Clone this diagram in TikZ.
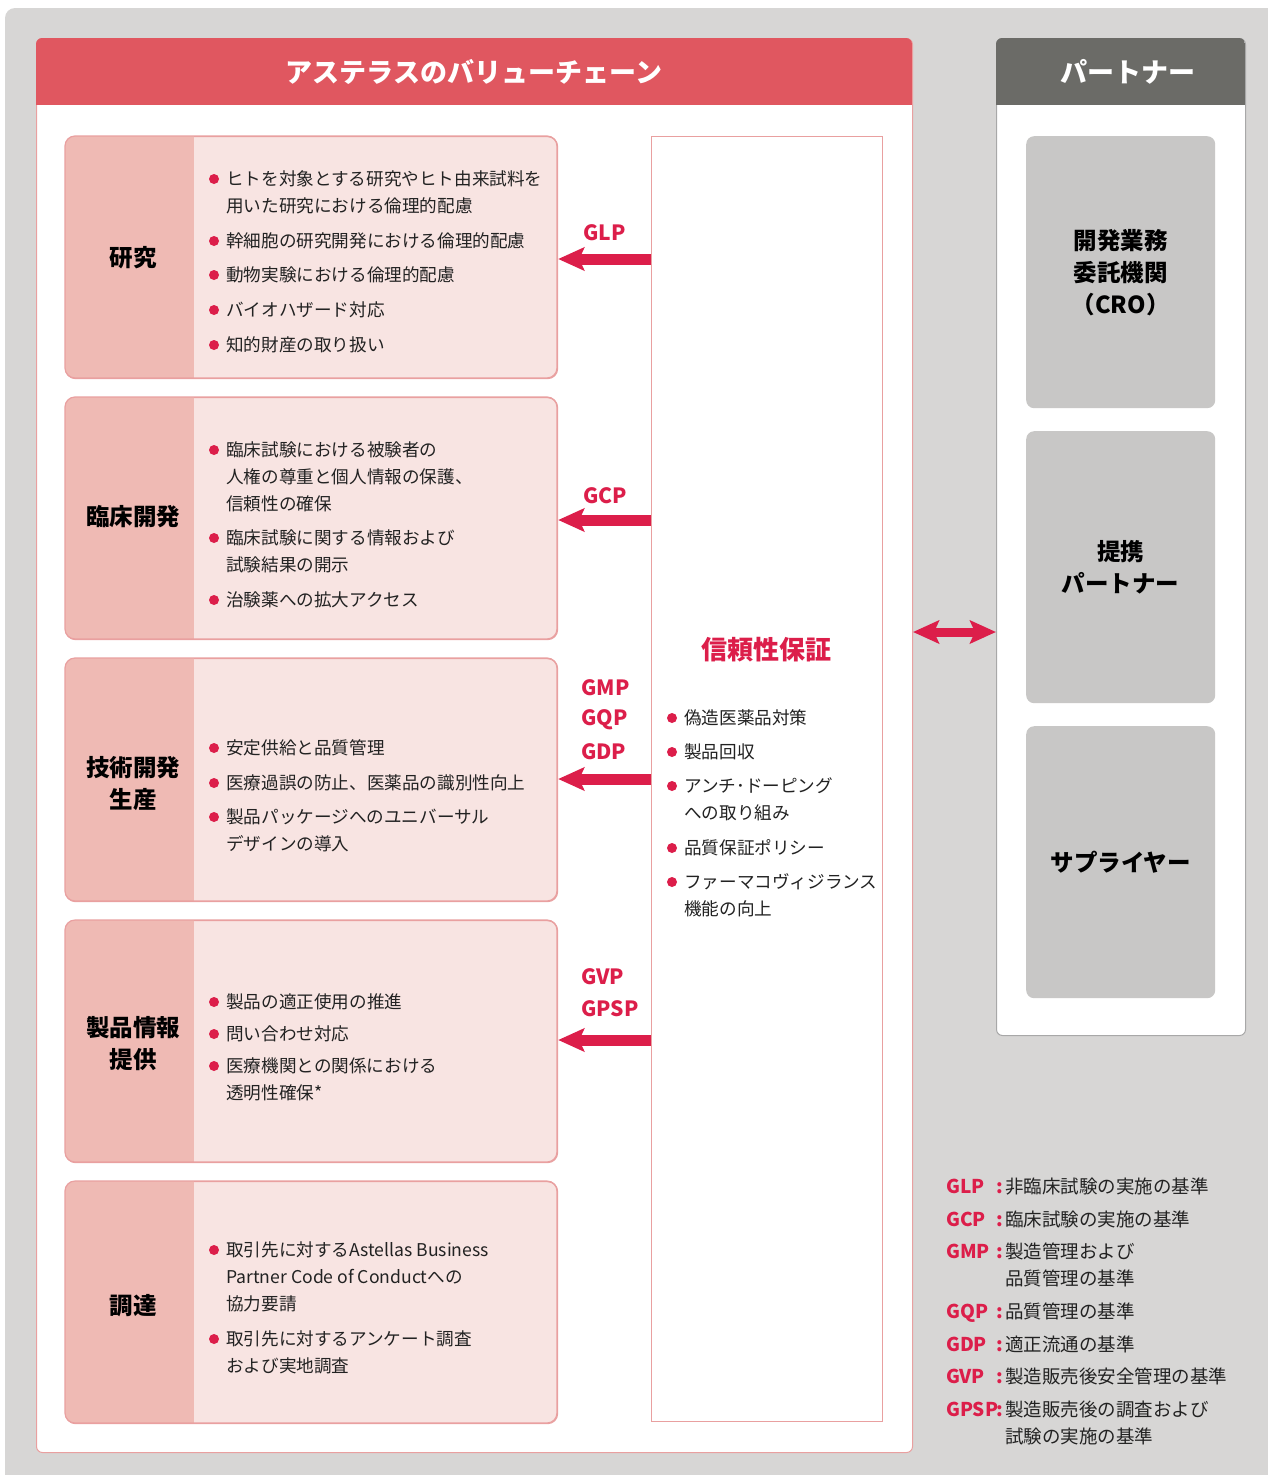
\documentclass[tikz,border=0pt]{standalone}
\usepackage{fontspec}
\setmainfont{Noto Sans CJK JP}
\usetikzlibrary{arrows.meta}
\definecolor{hdrred}{HTML}{E05760}
\definecolor{acc}{HTML}{DC1E4A}
\definecolor{labbg}{HTML}{EFBAB4}
\definecolor{txtbg}{HTML}{F8E4E2}
\definecolor{pinkline}{HTML}{E9A0A0}
\definecolor{bggray}{HTML}{D7D6D5}
\definecolor{phdr}{HTML}{6B6B67}
\definecolor{pbox}{HTML}{C8C7C6}
\definecolor{pline}{HTML}{A8A8A8}
\definecolor{txt}{HTML}{222222}
\tikzset{
  body/.style={font=\fontsize{17.6}{27}\selectfont, text=txt, inner sep=0pt, anchor=base west},
  lab/.style={font=\bfseries\fontsize{23.5}{32}\selectfont, text=black, align=center, inner sep=0pt},
  code/.style={font=\bfseries\fontsize{21}{32}\selectfont, text=acc, inner sep=0pt, anchor=west},
  lcode/.style={font=\bfseries\fontsize{19}{27}\selectfont, text=acc, inner sep=0pt, anchor=base west},
  ltext/.style={font=\fontsize{18.5}{27}\selectfont, text=txt, inner sep=0pt, anchor=base west},
  rowbox/.style={rectangle, fill=txtbg, draw=pinkline, line width=1.2pt, rounded corners=10pt, minimum width=492pt, inner sep=0pt, anchor=north west},
  pboxst/.style={rectangle, fill=pbox, rounded corners=8pt, minimum width=189pt, minimum height=272pt, inner sep=0pt, anchor=north west, align=center, font=\bfseries\fontsize{23.5}{32}\selectfont, text=black},
  bigarrow/.style={acc, line width=11pt, -{Stealth[length=26pt,width=23pt,inset=5pt]}},
  dblarrow/.style={acc, line width=9pt, {Stealth[length=26pt,width=23pt,inset=5pt]}-{Stealth[length=26pt,width=23pt,inset=5pt]}},
}
\newcommand\topblock[1]{\begin{tabular}[t]{@{}l@{}}#1\end{tabular}}
\newcommand\bitem[4]{%
  \fill[acc] (#2,#3) circle (5pt);
  \node[body] (#1) at (#2+12,#3+6.5) {\topblock{#4}};}
\begin{document}
\begin{tikzpicture}[x=1pt,y=-1pt]
\useasboundingbox (0,0) rectangle (1268,1475);
% background
\fill[bggray, rounded corners=10pt] (5,8) rectangle (1290,1500);
% main panel
\node[rectangle, fill=white, draw=pinkline, line width=1pt, rounded corners=6pt, minimum width=876pt, minimum height=1414pt, inner sep=0pt, anchor=north west] (mp) at (36,38) {};
\begin{scope}
  \clip[rounded corners=6pt] (36,38) rectangle (912,1452);
  \fill[hdrred] (36,38) rectangle (912,105);
\end{scope}
\node[font=\bfseries\fontsize{27}{32}\selectfont, text=white] (mphead) at (474,72) {アステラスのバリューチェーン};
% partner panel
\node[rectangle, fill=white, draw=pline, line width=1pt, rounded corners=6pt, minimum width=249pt, minimum height=997pt, inner sep=0pt, anchor=north west] (pp) at (996,38) {};
\begin{scope}
  \clip[rounded corners=6pt] (996,38) rectangle (1245,1035);
  \fill[phdr] (996,38) rectangle (1245,105);
\end{scope}
\node[font=\bfseries\fontsize{27}{32}\selectfont, text=white] (pphead) at (1128,72) {パートナー};
\node[pboxst] (p1) at (1026,136) {開発業務\\委託機関\\（CRO）};
\node[pboxst] (p2) at (1026,431) {提携\\パートナー};
\node[pboxst] (p3) at (1026,726) {サプライヤー};
% rows
\foreach \n/\t/\b in {r1/136/378, r2/397/639, r3/658/901, r4/920/1162, r5/1181/1423}{
  \node[rowbox, minimum height={\b-\t}] (\n) at (65,\t) {};
  \begin{scope}
    \clip[rounded corners=10pt] (65,\t) rectangle (557,\b);
    \fill[labbg] (65,\t) rectangle (194,\b);
  \end{scope}
  \draw[pinkline, line width=1.2pt, rounded corners=10pt] (65,\t) rectangle (557,\b);
}
\node[lab] (l1) at (133,258) {研究};
\node[lab] (l2) at (133,517) {臨床開発};
\node[lab] (l3) at (133,784) {技術開発\\生産};
\node[lab] (l4) at (133,1044) {製品情報\\提供};
\node[lab] (l5) at (133,1306) {調達};
% row 1 items
\bitem{a1}{214}{179}{ヒトを対象とする研究やヒト由来試料を\\用いた研究における倫理的配慮}
\bitem{a2}{214}{241}{幹細胞の研究開発における倫理的配慮}
\bitem{a3}{214}{275}{動物実験における倫理的配慮}
\bitem{a4}{214}{310}{バイオハザード対応}
\bitem{a5}{214}{345}{知的財産の取り扱い}
% row 2
\bitem{b1}{214}{450}{臨床試験における被験者の\\人権の尊重と個人情報の保護、\\信頼性の確保}
\bitem{b2}{214}{538}{臨床試験に関する情報および\\試験結果の開示}
\bitem{b3}{214}{600}{治験薬への拡大アクセス}
% row 3
\bitem{c1}{214}{748}{安定供給と品質管理}
\bitem{c2}{214}{783}{医療過誤の防止、医薬品の識別性向上}
\bitem{c3}{214}{817}{製品パッケージへのユニバーサル\\デザインの導入}
% row 4
\bitem{d1}{214}{1002}{製品の適正使用の推進}
\bitem{d2}{214}{1034}{問い合わせ対応}
\bitem{d3}{214}{1066}{医療機関との関係における\\透明性確保*}
% row 5
\bitem{e1}{214}{1250}{取引先に対するAstellas Business\\Partner Code of Conductへの\\協力要請}
\bitem{e2}{214}{1339}{取引先に対するアンケート調査\\および実地調査}
% quality assurance box
\node[rectangle, fill=white, draw=pinkline, line width=1.2pt, minimum width=231pt, minimum height=1285pt, inner sep=0pt, anchor=north west] (qa) at (651,136) {};
\node[font=\bfseries\fontsize{26}{32}\selectfont, text=acc] (qatitle) at (766,650) {信頼性保証};
\bitem{q1}{672}{718}{偽造医薬品対策}
\bitem{q2}{672}{752}{製品回収}
\bitem{q3}{672}{786}{アンチ･ドーピング\\への取り組み}
\bitem{q4}{672}{848}{品質保証ポリシー}
\bitem{q5}{672}{882}{ファーマコヴィジランス\\機能の向上}
% arrows
\draw[bigarrow] (qa.west |- 0,259) -- (r1.east |- 0,259);
\draw[bigarrow] (qa.west |- 0,520) -- (r2.east |- 0,520);
\draw[bigarrow] (qa.west |- 0,779) -- (r3.east |- 0,779);
\draw[bigarrow] (qa.west |- 0,1040) -- (r4.east |- 0,1040);
\draw[dblarrow] (mp.east |- 0,632) -- (pp.west |- 0,632);
% codes
\node[code] (k1) at (583,233) {GLP};
\node[code] (k2) at (583,496) {GCP};
\node[code] (k3) at (581,688) {GMP};
\node[code] (k4) at (581,720) {GQP};
\node[code] (k5) at (581,752) {GDP};
\node[code] (k6) at (581,977) {GVP};
\node[code] (k7) at (581,1009) {GPSP};
% legend
\foreach \nm/\c/\y/\tx in {g1/GLP/1187/非臨床試験の実施の基準, g2/GCP/1220/臨床試験の実施の基準, g3/GMP/1252/製造管理および\\品質管理の基準, g4/GQP/1312/品質管理の基準, g5/GDP/1345/適正流通の基準, g6/GVP/1377/製造販売後安全管理の基準, g7/GPSP/1410/製造販売後の調査および\\試験の実施の基準}{
  \node[lcode] (\nm c) at (946,\y+6.5) {\c};
  \node[lcode] (\nm k) at (996,\y+6.5) {:};
  \node[ltext] (\nm t) at (1005,\y+6.5) {\topblock{\tx}};
}
\end{tikzpicture}
\end{document}
